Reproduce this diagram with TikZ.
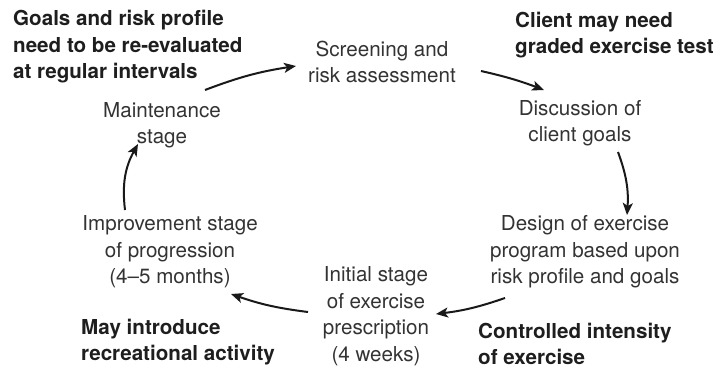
\documentclass[tikz,border=0pt]{standalone}
\usepackage{fontspec}
\setmainfont{TeX Gyre Heros}
\usetikzlibrary{arrows.meta}
\definecolor{txt}{HTML}{333333}
\definecolor{btxt}{HTML}{1E1E1E}
\begin{document}
\begin{tikzpicture}[x=1pt,y=-1pt,
  stage/.style={align=center,inner sep=0pt,text=txt,font=\fontsize{20.6}{26.5}\selectfont},
  note/.style={align=left,inner sep=0pt,text=btxt,font=\fontsize{20.6}{26.5}\selectfont\bfseries},
  flow/.style={line width=2pt,draw=black!90,-{Stealth[length=12pt,width=10pt,inset=3pt]}}]
\useasboundingbox (0,0) rectangle (719,371);
\node[note,anchor=west] (goals) at (13,47) {Goals and risk profile\\need to be re-evaluated\\at regular intervals};
\node[note,anchor=west] (client) at (515,35) {Client may need\\graded exercise test};
\node[note,anchor=west] (recr) at (81,342) {May introduce\\recreational activity};
\node[note,anchor=west] (ctrl) at (478,344) {Controlled intensity\\of exercise};
\node[stage] (screen) at (382,62) {Screening and\\risk assessment};
\node[stage] (disc) at (580,123) {Discussion of\\client goals};
\node[stage] (design) at (585,252) {Design of exercise\\program based upon\\risk profile and goals};
\node[stage] (init) at (376,316) {Initial stage\\of exercise\\prescription\\(4 weeks)};
\node[stage] (impr) at (170,252) {Improvement stage\\of progression\\(4--5 months)};
\node[stage] (maint) at (162,125) {Maintenance\\stage};
\coordinate (a1s) at (205,90);  \coordinate (a1e) at (296,66);
\coordinate (a2s) at (481,71);  \coordinate (a2e) at (544,90);
\coordinate (a3s) at (618,152); \coordinate (a3e) at (627,215);
\coordinate (a4s) at (505,298); \coordinate (a4e) at (436,314);
\coordinate (a5s) at (308,312); \coordinate (a5e) at (231,294);
\coordinate (a6s) at (125,210); \coordinate (a6e) at (138,144);
\draw[flow] (a1s) to[bend left=6] (a1e);
\draw[flow] (a2s) to[bend left=4] (a2e);
\draw[flow] (a3s) to[bend left=12] (a3e);
\draw[flow] (a4s) to[bend left=6] (a4e);
\draw[flow] (a5s) to[bend left=6] (a5e);
\draw[flow] (a6s) to[bend left=18] (a6e);
\end{tikzpicture}
\end{document}
